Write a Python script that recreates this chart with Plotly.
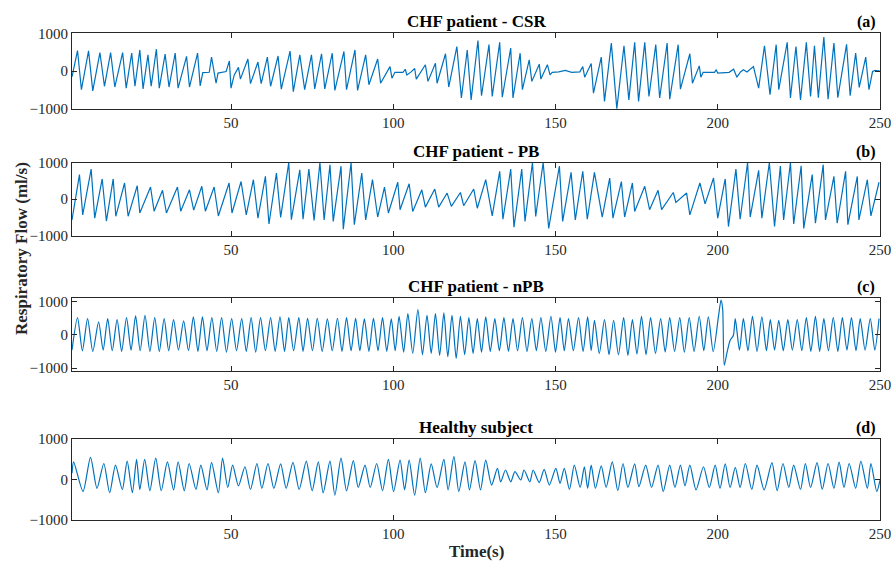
import plotly.graph_objects as go

# ---------------- data ----------------
# Panel (a) CHF patient - CSR : breath peaks, troughs and flat (apnoea) points
a_peak_t = [2.7, 6.1, 9.6, 12.9, 16.6, 19.4, 21.9, 24.4, 27.0, 29.7, 32.8, 36.3, 39.7, 44.0, 49.5, 52.3,
            55.2, 58.3, 61.2, 64.5, 68.2, 71.2, 74.8, 77.9, 81.2, 84.8, 88.2, 91.5, 95.2, 99.0, 103.7, 106.6,
            109.9, 113.0, 116.1, 119.6, 122.8, 126.1, 129.5, 132.8, 136.2, 139.1, 141.9, 145.0, 147.5, 153.0,
            158.4, 161.0, 164.1, 167.2, 171.1, 174.4, 177.5, 180.9, 184.4, 187.8, 191.4, 194.3, 199.5, 204.9,
            207.9, 211.0, 214.4, 218.0, 221.4, 224.1, 227.3, 229.8, 232.7, 235.8, 239.7, 242.5, 245.6, 248.5]
a_peak_v = [545, 537, 490, 490, 490, 475, 560, 430, 580, 450, 475, 390, 475, 370, 270, 100,
            320, 240, 370, 400, 530, 430, 430, 460, 475, 520, 560, 430, 320, 120, 50, 70,
            170, 210, 460, 650, 560, 810, 700, 760, 610, 475, 300, 185, 170, 20,
            120, 200, 370, 740, 670, 760, 760, 700, 740, 700, 460, 140, 35, 50,
            35, 120, 670, 700, 760, 650, 760, 670, 900, 740, 710, 475, 370, 20]
a_trough_t = [1.0, 3.9, 7.4, 11.0, 14.2, 17.7, 20.4, 22.9, 25.4, 27.9, 30.9, 33.7, 37.2, 40.5, 45.4, 50.0,
              52.9, 56.0, 59.3, 62.2, 65.5, 69.2, 72.7, 75.8, 78.9, 82.0, 85.6, 89.0, 92.5, 96.1, 99.6, 104.2,
              107.1, 110.7, 113.5, 117.1, 121.0, 124.0, 127.2, 130.5, 133.6, 136.9, 139.8, 142.7, 145.5, 148.3,
              159.0, 161.7, 165.1, 168.9, 172.6, 175.6, 178.8, 182.1, 185.2, 188.5, 192.2, 194.8, 200.0, 205.9,
              212.6, 216.1, 218.8, 222.4, 225.5, 228.6, 231.0, 234.0, 237.0, 240.8, 243.6, 246.6]
a_trough_v = [-150, -490, -520, -400, -420, -450, -400, -470, -400, -450, -420, -450, -420, -390, -320, -450,
              -210, -330, -330, -400, -475, -540, -490, -470, -470, -510, -490, -510, -360, -320, -185, -100,
              -210, -270, -320, -420, -710, -760, -650, -670, -690, -710, -490, -270, -210, -100,
              -160, -580, -800, -990, -760, -800, -670, -710, -740, -475, -320, -160, -50, -160,
              -450, -620, -490, -710, -760, -670, -700, -740, -700, -650, -430, -490]
a_flat_t = [41.3, 43.3, 46.0, 48.5, 51.0, 100.5, 103.0, 105.5, 149.0, 151.0, 155.0, 157.5,
            195.5, 199.0, 203.5, 207.0, 209.0, 247.7, 250.0]
a_flat_v = [-40, -30, -50, -10, -100, -30, -30, -20, -30, -20, -30, -20,
            -30, -30, -30, -20, -20, -10, 0]

# Panel (b) CHF patient - PB
b_peak_t = [3.3, 6.9, 10.3, 13.7, 17.2, 21.1, 25.2, 28.9, 33.5, 37.2, 41.0, 44.8, 49.4, 53.1, 56.9, 60.6,
            64.0, 67.8, 71.2, 74.0, 77.4, 80.5, 83.9, 87.0, 90.3, 93.6, 97.3, 101.4, 104.9, 108.8, 112.8,
            116.6, 120.7, 124.8, 128.5, 132.8, 136.2, 139.6, 142.9, 146.2, 151.2, 154.8, 158.4, 162.0,
            166.7, 170.3, 173.7, 177.5, 181.6, 186.3, 190.4, 194.5, 198.7, 202.3, 205.6, 209.2, 212.6,
            215.9, 219.3, 222.4, 225.7, 229.1, 232.5, 235.8, 239.4, 243.0, 246.1, 249.7]
b_peak_v = [670, 820, 550, 550, 440, 365, 330, 240, 330, 255, 350, 330, 440, 480, 530, 620,
            710, 1000, 800, 820, 1000, 940, 900, 1000, 710, 530, 330, 460, 420, 255, 275,
            165, 180, 275, 530, 760, 820, 820, 1000, 1000, 900, 730, 760, 730,
            575, 480, 440, 350, 240, 180, 165, 440, 575, 550, 820, 1000, 785,
            1000, 900, 1000, 910, 670, 940, 620, 760, 620, 530, 460]
b_trough_t = [1.0, 4.3, 8.0, 11.6, 14.5, 18.3, 21.9, 26.3, 30.1, 34.5, 38.5, 42.1, 46.1, 50.3, 54.7, 58.3,
              61.7, 65.3, 68.6, 72.2, 75.6, 78.7, 81.5, 84.6, 88.0, 91.5, 95.2, 98.5, 102.1, 106.0, 109.9,
              114.0, 117.9, 121.7, 125.9, 130.5, 133.8, 137.2, 140.6, 143.9, 147.9, 152.2, 156.1, 159.8,
              164.4, 167.7, 171.3, 174.4, 179.0, 182.7, 187.1, 191.4, 196.1, 200.0, 203.3, 206.9, 210.0,
              213.6, 217.5, 220.3, 223.4, 226.5, 230.1, 233.2, 236.8, 240.1, 243.5, 247.2]
b_trough_v = [-570, -430, -520, -600, -470, -470, -380, -330, -380, -330, -300, -330, -460, -380, -430, -520,
              -680, -500, -560, -550, -580, -570, -610, -820, -700, -570, -490, -380, -290, -340, -220,
              -220, -200, -180, -250, -460, -550, -770, -610, -475, -800, -610, -570, -550,
              -490, -520, -490, -340, -290, -290, -90, -430, -130, -520, -750, -550, -490,
              -520, -750, -570, -680, -800, -660, -570, -660, -700, -570, -460]

# Panel (c) CHF patient - nPB
c_peak_t = [2.7, 5.8, 9.2, 12.0, 14.9, 17.8, 20.6, 23.5, 26.5, 29.4, 32.3, 35.4, 38.4, 41.2, 44.1, 47.1,
            50.2, 53.3, 56.2, 59.1, 62.2, 65.1, 67.8, 70.9, 73.6, 76.6, 79.7, 82.8, 85.6, 88.4, 91.1, 93.9,
            96.7, 99.4, 101.8, 104.5, 107.6, 110.4, 113.0, 115.6, 118.1, 120.7, 123.3, 125.9, 128.5, 131.3,
            134.1, 136.9, 139.8, 142.7, 145.5, 148.6, 151.4, 154.0, 157.1, 159.9, 162.0, 165.1, 167.9, 171.0,
            173.7, 176.5, 179.3, 182.4, 185.2, 188.3, 191.2, 194.3, 197.1, 200.2, 201.0, 201.5, 205.4, 207.9,
            210.7, 213.6, 216.2, 218.8, 221.6, 224.5, 227.3, 230.1, 232.7, 235.6, 238.4, 241.2, 243.9, 247.0,
            249.7]
c_peak_v = [520, 490, 390, 490, 460, 520, 570, 590, 520, 490, 460, 420, 540, 540, 520, 520,
            490, 490, 520, 520, 520, 540, 520, 520, 500, 500, 480, 500, 520, 500, 480, 500,
            520, 480, 560, 640, 760, 590, 640, 660, 590, 560, 520, 490, 540, 490,
            520, 490, 520, 490, 520, 560, 520, 490, 520, 540, 440, 460, 440, 520,
            460, 560, 520, 490, 520, 520, 520, 560, 540, 540, 1045, 795, 490, 490,
            560, 540, 460, 440, 460, 460, 520, 560, 490, 520, 520, 520, 490, 490,
            490]
c_trough_t = [1.0, 4.2, 7.4, 10.6, 13.4, 16.3, 19.2, 22.0, 25.0, 27.9, 30.8, 33.8, 36.9, 39.8, 42.6, 45.6,
              48.6, 51.7, 54.7, 57.6, 60.6, 63.6, 66.5, 69.3, 72.2, 75.1, 78.1, 81.2, 84.2, 87.0, 89.7, 92.5,
              95.3, 98.0, 100.6, 103.2, 106.0, 109.0, 111.7, 114.3, 116.8, 119.4, 122.0, 124.6, 127.2, 129.9,
              132.7, 135.5, 138.3, 141.2, 144.1, 147.0, 150.0, 152.7, 155.5, 158.5, 161.0, 163.5, 166.5, 169.4,
              172.3, 175.1, 177.9, 180.8, 183.8, 186.7, 189.7, 192.7, 195.7, 198.6, 202.0, 202.8, 203.8, 204.8,
              206.7, 209.3, 212.1, 215.0, 217.5, 220.2, 223.0, 225.9, 228.7, 231.4, 234.1, 237.0, 239.8, 242.6,
              245.4, 248.4]
c_trough_v = [-460, -480, -500, -460, -480, -500, -460, -480, -500, -500, -480, -460, -480, -500, -480, -500,
              -520, -480, -500, -520, -480, -500, -500, -480, -500, -480, -500, -480, -500, -480, -480, -500,
              -480, -500, -480, -520, -560, -600, -560, -620, -660, -710, -600, -560, -520, -500,
              -480, -500, -480, -500, -480, -500, -520, -480, -480, -500, -480, -560, -600, -600,
              -620, -580, -600, -560, -520, -500, -520, -500, -480, -510, -915, -560, -170, -20,
              -460, -480, -500, -480, -460, -480, -460, -480, -500, -500, -480, -500, -460, -480,
              -460, -460]

# Panel (d) Healthy subject
d_peak_t = [1.5, 6.7, 10.8, 14.4, 18.0, 20.9, 23.4, 26.8, 30.4, 33.7, 37.1, 40.7, 44.0, 47.4, 50.5, 54.3,
            58.0, 61.4, 65.3, 69.1, 73.2, 76.9, 80.5, 83.9, 87.7, 91.3, 94.9, 98.5, 102.1, 104.9, 108.3,
            111.7, 115.6, 118.7, 122.1, 125.2, 128.5, 132.1, 134.6, 137.5, 140.3, 143.1, 146.5, 150.1,
            152.7, 155.8, 158.9, 161.0, 164.1, 167.5, 170.8, 174.4, 177.8, 181.6, 185.2, 188.5, 191.4,
            195.6, 199.2, 202.3, 205.4, 208.5, 212.1, 216.7, 220.1, 223.4, 227.0, 230.6, 234.0, 237.4,
            240.5, 244.1, 247.2]
d_peak_v = [430, 540, 390, 350, 450, 490, 490, 520, 430, 430, 390, 350, 420, 520, 350, 310,
            390, 390, 380, 420, 450, 430, 450, 520, 460, 350, 390, 490, 475, 475, 520,
            380, 490, 560, 430, 460, 475, 270, 230, 190, 230, 230, 245, 270,
            270, 350, 310, 350, 330, 430, 390, 380, 350, 350, 350, 350, 350,
            310, 350, 380, 295, 390, 350, 410, 390, 350, 390, 410, 390, 425,
            390, 450, 390]
d_trough_t = [1.0, 4.4, 8.7, 12.6, 16.5, 19.6, 21.9, 25.0, 28.5, 32.3, 35.6, 39.2, 42.6, 46.1, 49.0, 52.3,
              56.0, 59.5, 63.2, 67.0, 71.0, 75.0, 78.4, 82.0, 85.6, 89.2, 92.9, 96.7, 100.1, 103.5, 106.6,
              109.9, 113.5, 116.9, 120.2, 123.5, 126.9, 130.3, 133.1, 136.2, 139.3, 142.1, 145.0, 148.1,
              151.4, 154.3, 157.6, 159.9, 162.3, 165.6, 169.2, 172.3, 175.7, 179.6, 183.2, 186.8, 189.9,
              193.3, 197.4, 200.7, 203.8, 206.9, 210.5, 214.3, 218.3, 221.9, 225.5, 228.6, 232.2, 235.8,
              238.9, 242.5, 246.1, 249.0, 250.0]
d_trough_v = [150, -300, -220, -330, -250, -330, -250, -280, -280, -260, -280, -250, -260, -330, -200, -160,
              -250, -220, -220, -220, -250, -280, -330, -390, -280, -200, -200, -280, -300, -260, -390,
              -330, -200, -260, -300, -260, -260, -140, -60, -60, -15, -60, -80, -140,
              -100, -250, -200, -220, -220, -200, -280, -200, -180, -200, -300, -200, -160,
              -260, -200, -220, -200, -200, -250, -260, -280, -200, -250, -200, -250, -220,
              -200, -220, -220, -300, -20]

titles = ["CHF patient - CSR", "CHF patient - PB", "CHF patient - nPB", "Healthy subject"]
tags = ["(a)", "(b)", "(c)", "(d)"]
x_ticks = [50, 100, 150, 200, 250]
y_ticks = [-1000, 0, 1000]


def merge(*pairs):
    pts = []
    for t, v in pairs:
        pts.extend(zip(t, v))
    pts.sort(key=lambda p: p[0])
    return [p[0] for p in pts], [p[1] for p in pts]


series = [
    merge((a_peak_t, a_peak_v), (a_trough_t, a_trough_v), (a_flat_t, a_flat_v)),
    merge((b_peak_t, b_peak_v), (b_trough_t, b_trough_v)),
    merge((c_peak_t, c_peak_v), (c_trough_t, c_trough_v)),
    merge((d_peak_t, d_peak_v), (d_trough_t, d_trough_v)),
]
shapes_line = ["linear", "linear", "spline", "spline"]

# ---------------- layout ----------------
W, H = 892, 561
x0, x1 = 72, 880
panels_px = [(33.3, 109.0), (162.5, 235.7), (297.7, 371.0), (438.7, 520.0)]
y_ranges = [[-1000, 1000], [-1000, 1000], [-1090, 1120], [-1000, 1000]]
title_y = [21, 151, 286, 427]
ink = "#262626"
FONT = "Liberation Serif, Times New Roman, serif"

fig = go.Figure()
layout = dict(
    template="none",
    width=W, height=H, autosize=False, margin=dict(l=0, r=0, t=0, b=0, pad=0),
    paper_bgcolor="white", plot_bgcolor="white", showlegend=False,
    font=dict(family=FONT, color=ink, size=15),
)
annotations = []
for i, ((t, v), (top, bot)) in enumerate(zip(series, panels_px)):
    n = "" if i == 0 else str(i + 1)
    line = dict(color="#0072BD", width=1.2, shape=shapes_line[i])
    if shapes_line[i] == "spline":
        line["smoothing"] = 0.7
    fig.add_trace(go.Scatter(x=t, y=v, mode="lines", xaxis="x" + n, yaxis="y" + n,
                             line=line, hoverinfo="skip"))
    layout["xaxis" + n] = dict(
        domain=[x0 / W, x1 / W], range=[1, 250], anchor="y" + n, automargin=False,
        tickvals=x_ticks, ticks="inside", ticklen=5, tickcolor=ink, tickwidth=1,
        showline=True, linecolor=ink, linewidth=1, mirror="ticks",
        showgrid=False, zeroline=False, tickfont=dict(family=FONT, size=15, color=ink),
    )
    layout["yaxis" + n] = dict(
        domain=[1 - bot / H, 1 - top / H], range=y_ranges[i], anchor="x" + n, automargin=False,
        tickvals=y_ticks, ticks="inside", ticklen=5, tickcolor=ink, tickwidth=1,
        showline=True, linecolor=ink, linewidth=1, mirror="ticks",
        showgrid=False, zeroline=False, tickfont=dict(family=FONT, size=15, color=ink),
    )
    annotations.append(dict(text="<b>%s</b>" % titles[i], x=(x0 + x1) / 2 / W, y=1 - title_y[i] / H,
                            xref="paper", yref="paper", showarrow=False, xanchor="center", yanchor="middle",
                            font=dict(family=FONT, size=17, color="black")))
    annotations.append(dict(text="<b>%s</b>" % tags[i], x=866 / W, y=1 - (title_y[i] + 1) / H,
                            xref="paper", yref="paper", showarrow=False, xanchor="center", yanchor="middle",
                            font=dict(family=FONT, size=16, color="black")))

annotations.append(dict(text="<b>Time(s)</b>", x=(x0 + x1) / 2 / W, y=1 - 551 / H, xref="paper", yref="paper",
                        showarrow=False, xanchor="center", yanchor="middle",
                        font=dict(family=FONT, size=17, color=ink)))
annotations.append(dict(text="<b>Respiratory Flow (ml/s)</b>", x=21 / W, y=1 - 249 / H, xref="paper",
                        yref="paper", showarrow=False, xanchor="center", yanchor="middle", textangle=-90,
                        font=dict(family=FONT, size=17, color=ink)))
layout["annotations"] = annotations
fig.update_layout(**layout)
fig.write_html("out.html", config={"responsive": False, "displayModeBar": False},
               default_width="892px", default_height="561px",
               post_script="document.body.style.margin='0';document.body.style.overflow='hidden';")
